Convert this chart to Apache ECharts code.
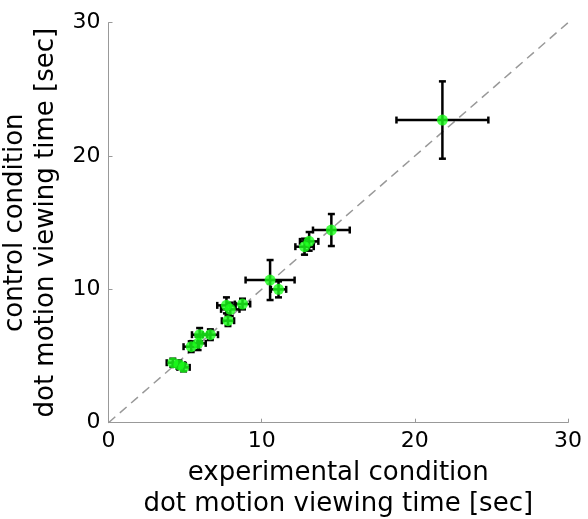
<!DOCTYPE html>
<html>
<head>
<meta charset="utf-8">
<title>viewing time</title>
<style>html,body{margin:0;padding:0;background:#fff;}</style>
</head>
<body>
<div id="main" style="width:588px;height:519px;"></div>
<script src="https://cdn.jsdelivr.net/npm/echarts@6/dist/echarts.min.js"></script>
<script>
// experimental (x) vs control (y) mean viewing times, with errors
var xMean = [4.2, 4.6, 4.9, 5.4, 5.85, 5.95, 6.65, 7.7, 7.95, 8.75, 7.8, 10.55, 11.1, 12.8, 13.1, 14.55, 21.8];
var yMean = [4.5, 4.35, 4.15, 5.7, 5.95, 6.6, 6.6, 8.8, 8.5, 8.9, 7.65, 10.7, 10.0, 13.2, 13.6, 14.45, 22.7];
var xErr  = [0.4, 0.4, 0.4, 0.5, 0.5, 0.5, 0.5, 0.6, 0.6, 0.5, 0.4, 1.6, 0.5, 0.6, 0.6, 1.2, 3.0];
var yErr  = [0.3, 0.3, 0.3, 0.4, 0.5, 0.5, 0.4, 0.6, 0.5, 0.4, 0.4, 1.5, 0.6, 0.6, 0.7, 1.2, 2.9];
var ticks = [0, 10, 20, 30];
var diag = [[0, 0], [30, 30]];

var pts = xMean.map(function (x, i) { return [x, yMean[i], xErr[i], yErr[i]]; });

var myChart = echarts.init(document.getElementById('main'));

function errBars(params, api) {
    var x = api.value(0), y = api.value(1), ex = api.value(2), ey = api.value(3);
    var l = api.coord([x - ex, y]), r = api.coord([x + ex, y]);
    var t = api.coord([x, y + ey]), b = api.coord([x, y - ey]);
    var cap = 3.5;
    var st = { stroke: '#000', lineWidth: 2.5 };
    var seg = function (x1, y1, x2, y2) {
        return { type: 'line', shape: { x1: x1, y1: y1, x2: x2, y2: y2 }, style: st };
    };
    return {
        type: 'group',
        children: [
            seg(l[0], l[1], r[0], r[1]),
            seg(t[0], t[1], b[0], b[1]),
            seg(l[0], l[1] - cap, l[0], l[1] + cap),
            seg(r[0], r[1] - cap, r[0], r[1] + cap),
            seg(t[0] - cap, t[1], t[0] + cap, t[1]),
            seg(b[0] - cap, b[1], b[0] + cap, b[1])
        ]
    };
}

var axisCommon = {
    type: 'value',
    min: ticks[0],
    max: ticks[ticks.length - 1],
    interval: ticks[1] - ticks[0],
    nameLocation: 'middle',
    nameTextStyle: { fontFamily: 'DejaVu Sans', fontSize: 26, color: '#000', lineHeight: 31 },
    axisLine: { show: true, lineStyle: { color: '#999', width: 1 } },
    axisTick: { show: true, inside: true, length: 4, lineStyle: { color: '#999' } },
    axisLabel: { fontFamily: 'DejaVu Sans', fontSize: 22, color: '#000', margin: 8 },
    splitLine: { show: false }
};

myChart.setOption({
    animation: false,
    grid: { left: 108.5, right: 20, top: 22.7, bottom: 96.3, outerBoundsMode: 'none' },
    xAxis: Object.assign({}, axisCommon, {
        name: 'experimental condition\ndot motion viewing time [sec]',
        nameGap: 27
    }),
    yAxis: Object.assign({}, axisCommon, {
        name: 'control condition\ndot motion viewing time [sec]',
        nameGap: 31
    }),
    series: [
        {
            type: 'line',
            data: diag,
            symbol: 'none',
            silent: true,
            lineStyle: { color: '#999', width: 1.5, type: [9, 6] },
            z: 1
        },
        {
            type: 'custom',
            renderItem: errBars,
            data: pts,
            encode: { x: 0, y: 1 },
            z: 2
        },
        {
            type: 'scatter',
            data: pts,
            symbolSize: 11,
            itemStyle: { color: '#1aff1a' },
            z: 3
        }
    ]
});
</script>
</body>
</html>
